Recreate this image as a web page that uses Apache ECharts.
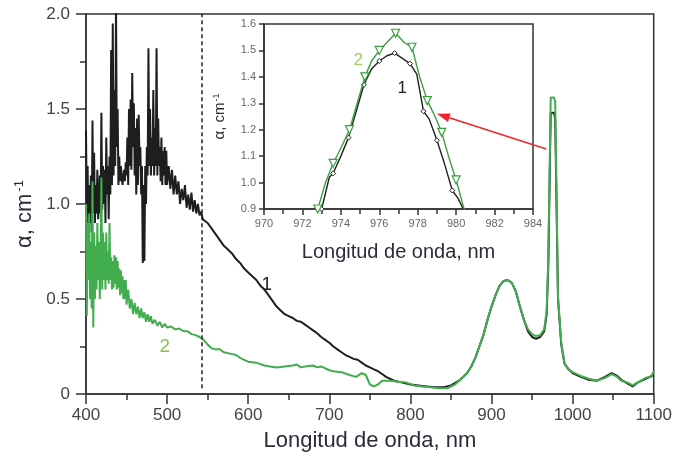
<!DOCTYPE html>
<html>
<head>
<meta charset="utf-8">
<script src="https://cdn.jsdelivr.net/npm/echarts@6/dist/echarts.min.js"></script>
<style>html,body{margin:0;padding:0;background:#fff}#c{width:675px;height:466px}</style>
</head>
<body>
<div id="c"></div>
<script>
// ---- data ----
var mainXTicks = [400, 500, 600, 700, 800, 900, 1000, 1100];
var insetXTicks = [970, 972, 974, 976, 978, 980, 982, 984];

// curve 1 (black), main panel: wavelength (nm) and alpha (cm-1)
var s1Wave = [400,401,402,403,404,405,406,407,408,409,410,411,412,413,414,415,416,417,418,419,420,421,422,423,424,425,426,427,428,429,430,431,432,433,434,435,436,437,438,439,440,441,442,443,444,445,446,447,448,449,450,451,452,453,454,455,456,457,458,459,460,461,462,463,464,465,466,467,468,469,470,471,472,473,474,475,476,477,478,479,480,481,482,483,484,485,486,487,488,489,490,491,492,493,494,495,496,497,498,499,500,502,504,506,508,510,512,514,516,518,520,522,524,526,528,530,532,534,536,538,540,542,544,
550,555,560,565,570,575,580,585,590,595,600,605,610,615,620,625,630,635,640,645,650,655,660,665,670,675,680,685,690,695,700,705,710,715,720,725,730,735,740,745,750,755,760,765,770,775,780,785,790,795,800,810,820,830,840,850,860,870,875,880,885,890,895,900,905,910,915,920,925,930,935,940,945,950,955,960,965,968,970,973,977,978.5,982,986,990,995,1000,1010,1020,1030,1040,1048,1055,1060,1068,1074,1080,1090,1100];
var s1Alpha = [1.39,0.95,1.2,0.77,1.1,0.9,1.15,0.85,1.44,0.95,1.27,0.9,1.1,0.95,1.18,0.92,1.0,1.15,0.95,1.48,0.97,1.2,1.0,1.18,0.9,1.35,1.05,1.2,0.92,1.25,1.05,1.81,1.1,1.95,1.15,1.6,1.2,2.05,1.3,1.5,1.1,1.25,1.12,1.2,1.15,1.1,1.09,1.18,1.12,1.22,1.15,1.35,1.1,1.5,1.2,1.55,1.18,1.69,1.3,1.53,1.15,1.4,1.05,1.45,1.1,1.47,1.2,1.3,1.05,1.2,0.69,1.1,0.7,1.2,1.0,1.3,1.15,1.82,1.2,1.5,1.15,1.35,1.2,1.6,1.15,1.4,1.2,1.82,1.15,1.45,1.2,1.3,1.12,1.35,1.1,1.28,1.15,1.3,1.1,1.28,1.1,1.2,1.08,1.18,1.05,1.15,1.05,1.12,1.0,1.08,1.02,1.1,0.98,1.05,0.97,1.06,0.96,1.02,0.95,1.0,0.94,0.96,0.92,
0.90,0.87,0.84,0.81,0.78,0.76,0.74,0.71,0.69,0.66,0.64,0.62,0.60,0.57,0.55,0.52,0.49,0.46,0.44,0.42,0.41,0.40,0.385,0.38,0.365,0.35,0.335,0.32,0.30,0.285,0.27,0.25,0.235,0.22,0.205,0.195,0.185,0.18,0.165,0.15,0.14,0.13,0.12,0.105,0.09,0.08,0.07,0.065,0.06,0.055,0.05,0.045,0.04,0.035,0.035,0.045,0.07,0.11,0.145,0.19,0.25,0.31,0.39,0.46,0.52,0.57,0.595,0.60,0.585,0.54,0.46,0.39,0.33,0.30,0.29,0.30,0.33,0.42,0.68,1.48,1.48,1.45,0.50,0.26,0.16,0.13,0.11,0.09,0.075,0.07,0.09,0.11,0.095,0.075,0.055,0.04,0.06,0.08,0.10];

// curve 2 (green), main panel
var s2Wave = [400,401,402,403,404,405,406,407,408,409,410,411,412,413,414,415,416,417,418,419,420,421,422,423,424,425,426,427,428,429,430,431,432,433,434,435,436,437,438,439,440,441,442,443,444,445,446,447,448,449,450,452,454,456,458,460,462,464,466,468,470,472,474,476,478,480,482,485,488,491,494,497,500,505,510,515,520,525,530,535,540,545,550,555,560,565,570,575,580,585,590,595,600,610,620,627,635,645,655,660,665,670,680,685,690,700,705,715,725,733,740,745,750,755,760,765,775,785,795,805,815,825,835,845,855,860,870,875,880,885,890,895,900,905,910,915,920,925,930,935,940,945,950,955,960,965,968,970,973,977,978.5,982,986,990,995,1000,1010,1020,1030,1040,1048,1055,1060,1068,1074,1080,1090,1097,1100];
var s2Alpha = [1.0,0.41,0.9,0.6,0.95,0.5,0.8,0.45,1.12,0.35,0.85,0.5,0.78,0.55,0.9,0.6,0.8,0.5,0.75,1.14,0.55,0.85,0.6,0.8,0.55,0.85,0.6,0.75,0.58,0.9,0.6,0.72,0.55,0.7,0.56,0.73,0.58,0.72,0.55,0.7,0.56,0.66,0.52,0.65,0.53,0.62,0.5,0.6,0.5,0.6,0.47,0.55,0.45,0.5,0.42,0.48,0.42,0.46,0.4,0.45,0.4,0.43,0.38,0.42,0.38,0.41,0.37,0.39,0.36,0.38,0.35,0.37,0.35,0.355,0.34,0.345,0.33,0.33,0.315,0.31,0.3,0.285,0.26,0.24,0.235,0.235,0.22,0.215,0.21,0.205,0.19,0.18,0.17,0.165,0.15,0.145,0.14,0.145,0.15,0.155,0.14,0.145,0.15,0.14,0.145,0.125,0.12,0.115,0.1,0.09,0.11,0.1,0.05,0.04,0.05,0.07,0.07,0.065,0.06,0.045,0.04,0.035,0.03,0.03,0.05,0.07,0.11,0.145,0.19,0.25,0.31,0.39,0.46,0.52,0.57,0.595,0.60,0.585,0.54,0.46,0.39,0.34,0.315,0.305,0.31,0.34,0.44,0.71,1.56,1.56,1.54,0.51,0.27,0.16,0.13,0.115,0.095,0.08,0.07,0.085,0.105,0.09,0.07,0.06,0.045,0.06,0.085,0.09,0.12];

// inset: zoom on the 976 nm band
var in1Wave = [972.7,973.0,973.4,973.6,974.0,974.4,974.8,975.2,975.6,976.0,976.4,976.8,977.2,977.6,977.95,978.3,978.6,979.0,979.4,979.8,980.1,980.5];
var in1Alpha = [0.82,0.90,1.02,1.035,1.10,1.17,1.27,1.37,1.43,1.46,1.48,1.49,1.47,1.45,1.41,1.27,1.24,1.16,1.07,0.97,0.94,0.88];
var in2Wave = [972.6,972.8,973.2,973.6,974.0,974.45,974.85,975.25,975.6,976.0,976.4,976.85,977.3,977.7,978.1,978.5,978.9,979.25,979.6,980.0,980.3,980.6];
var in2Alpha = [0.82,0.90,1.00,1.073,1.13,1.20,1.30,1.40,1.46,1.50,1.53,1.565,1.53,1.512,1.40,1.31,1.25,1.19,1.10,1.01,0.93,0.85];

// annotations
var dashedWave = 542.5;
var curveLabels = [
  {text: '1', grid: 0, at: [623, 0.575], color: '#222'},
  {text: '2', grid: 0, at: [497, 0.25], color: '#8cc152'},
  {text: '2', grid: 1, at: [974.9, 1.464], color: '#9ccf5c'},
  {text: '1', grid: 1, at: [977.2, 1.358], color: '#222'}
];
var arrowFrom = [967.5, 1.29];   // main panel coords
var arrowTo = [979.0, 1.26];     // inset coords

// ---- chart ----
function pairs(xs, ys) { return xs.map(function (x, i) { return [x, ys[i]]; }); }
function marked(xs, ys) {
  return xs.map(function (x, i) {
    var d = {value: [x, ys[i]]};
    if (i % 2 === 0) d.symbol = 'none';
    return d;
  });
}
var FONT = '"Liberation Sans", Arial, sans-serif';
var AX = '#333';

var chart = echarts.init(document.getElementById('c'), null, {renderer: 'canvas'});
var option = {
  animation: false,
  backgroundColor: '#fff',
  textStyle: {fontFamily: FONT},
  grid: [
    {left: 86, top: 14, right: 19, bottom: 72, show: true, borderColor: AX, borderWidth: 1.5, backgroundColor: 'transparent'},
    {left: 264, top: 24, width: 269, height: 185, show: true, borderColor: AX, borderWidth: 1.5, backgroundColor: '#fff', z: 5}
  ],
  xAxis: [
    {type: 'value', gridIndex: 0, min: 400, max: 1100, interval: 100,
     axisLine: {lineStyle: {color: AX, width: 1.5}},
     axisTick: {inside: false, length: 10, lineStyle: {color: AX, width: 1.5}},
     minorTick: {show: true, splitNumber: 2, length: 6, lineStyle: {color: AX, width: 1.5}},
     splitLine: {show: false},
     axisLabel: {fontSize: 17, color: '#444', margin: 13, fontFamily: FONT,
       formatter: function (v) { return mainXTicks.indexOf(v) >= 0 ? String(v) : ''; }},
     name: 'Longitud de onda, nm', nameLocation: 'middle', nameGap: 36,
     nameTextStyle: {fontSize: 22, color: '#2b2b3a', fontFamily: FONT}},
    {type: 'value', gridIndex: 1, min: 970, max: 984, interval: 2,
     axisLine: {lineStyle: {color: AX, width: 1.5}},
     axisTick: {inside: false, length: 6, lineStyle: {color: AX, width: 1.5}},
     minorTick: {show: true, splitNumber: 2, length: 5, lineStyle: {color: AX, width: 1.5}},
     splitLine: {show: false},
     axisLabel: {fontSize: 11, color: '#666', margin: 9, fontFamily: FONT,
       formatter: function (v) { return insetXTicks.indexOf(v) >= 0 ? String(v) : ''; }},
     name: 'Longitud de onda, nm', nameLocation: 'middle', nameGap: 33,
     nameTextStyle: {fontSize: 20, color: '#2b2b3a', fontFamily: FONT}, z: 6}
  ],
  yAxis: [
    {type: 'value', gridIndex: 0, min: 0, max: 2, interval: 0.5,
     axisLine: {lineStyle: {color: AX, width: 1.5}},
     axisTick: {inside: false, length: 10, lineStyle: {color: AX, width: 1.5}},
     minorTick: {show: true, splitNumber: 2, length: 6, lineStyle: {color: AX, width: 1.5}},
     splitLine: {show: false},
     axisLabel: {fontSize: 17, color: '#444', margin: 16, fontFamily: FONT,
       formatter: function (v) { return v === 0 ? '0' : v.toFixed(1); }},
     name: 'α, cm{sup|-1}', nameLocation: 'middle', nameGap: 50,
     nameTextStyle: {fontSize: 22, color: '#2b2b3a', fontFamily: FONT, padding: [0, 0, 0, -20],
       rich: {sup: {fontSize: 13, verticalAlign: 'top', color: '#2b2b3a', padding: [0, 0, 10, 2]}}}},
    {type: 'value', gridIndex: 1, min: 0.9, max: 1.6, interval: 0.1,
     axisLine: {lineStyle: {color: AX, width: 1.5}},
     axisTick: {inside: false, length: 5, lineStyle: {color: AX, width: 1.5}},
     splitLine: {show: false},
     axisLabel: {fontSize: 11, color: '#666', margin: 8, fontFamily: FONT,
       formatter: function (v) { return v.toFixed(1); }},
     name: 'α, cm{sup|-1}', nameLocation: 'middle', nameGap: 36,
     nameTextStyle: {fontSize: 15, color: '#2b2b3a', fontFamily: FONT,
       rich: {sup: {fontSize: 9, color: '#2b2b3a', padding: [0, 0, 7, 1]}}}, z: 6}
  ],
  series: [
    {type: 'line', xAxisIndex: 0, yAxisIndex: 0, data: pairs(s1Wave, s1Alpha), showSymbol: false,
     lineStyle: {color: '#1c1f1e', width: 2}, z: 2,
     markLine: {silent: true, symbol: 'none', label: {show: false},
       lineStyle: {color: '#222', type: [4, 3], width: 1.5},
       data: [[{coord: [dashedWave, 0.03]}, {coord: [dashedWave, 2]}]]}},
    {type: 'line', xAxisIndex: 0, yAxisIndex: 0, data: pairs(s2Wave, s2Alpha), showSymbol: false,
     lineStyle: {color: '#42ad4e', width: 2}, z: 3},
    {type: 'line', xAxisIndex: 1, yAxisIndex: 1, data: marked(in1Wave, in1Alpha),
     symbol: 'diamond', symbolSize: 5, itemStyle: {color: '#fff', borderColor: '#222', borderWidth: 1},
     lineStyle: {color: '#222', width: 1.4}, z: 7},
    {type: 'line', xAxisIndex: 1, yAxisIndex: 1, data: marked(in2Wave, in2Alpha),
     symbol: 'triangle', symbolRotate: 180, symbolSize: 8, itemStyle: {color: '#fff', borderColor: '#3a9f3f', borderWidth: 1.2},
     lineStyle: {color: '#3a9f3f', width: 1.4}, z: 8}
  ]
};
chart.setOption(option);

// annotations placed through the axes' own scales
var els = [];
curveLabels.forEach(function (c) {
  var p = chart.convertToPixel({gridIndex: c.grid}, c.at);
  els.push({type: 'text', x: p[0], y: p[1], z: 20,
    style: {text: c.text, fill: c.color, font: (c.grid === 0 ? '19px ' : '17px ') + FONT, align: 'center', verticalAlign: 'middle'}});
});
var a = chart.convertToPixel({gridIndex: 0}, arrowFrom);
var b = chart.convertToPixel({gridIndex: 1}, arrowTo);
var ang = Math.atan2(b[1] - a[1], b[0] - a[0]);
var L = 13, W = 4.5;
var bx = b[0] - L * Math.cos(ang), by = b[1] - L * Math.sin(ang);
els.push({type: 'line', z: 20, shape: {x1: a[0], y1: a[1], x2: bx, y2: by}, style: {stroke: '#f0262a', lineWidth: 1.6}});
els.push({type: 'polygon', z: 20, shape: {points: [
  [b[0], b[1]],
  [bx + W * Math.sin(ang), by - W * Math.cos(ang)],
  [bx - W * Math.sin(ang), by + W * Math.cos(ang)]
]}, style: {fill: '#f0262a'}});
chart.setOption({graphic: els});
</script>
</body>
</html>
